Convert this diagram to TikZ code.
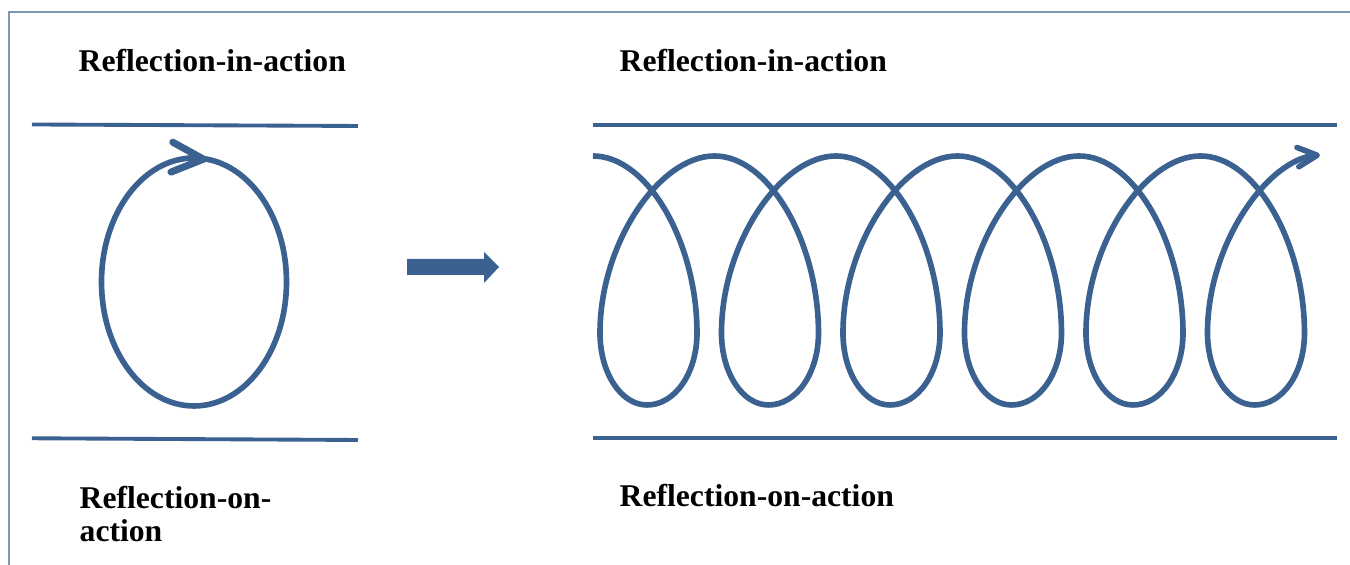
\documentclass[tikz,border=0pt]{standalone}
\usepackage{fontspec}
\setmainfont{Liberation Serif}
\usetikzlibrary{arrows.meta}
\definecolor{loopblue}{HTML}{3A6190}
\definecolor{framegrey}{HTML}{7F96B6}
\tikzstyle{frame_line}=[draw=framegrey, line width=0.5pt]
\tikzstyle{rule_line}=[draw=loopblue, line width=1.1pt]
\tikzstyle{loop_line}=[draw=loopblue, line width=1.6pt, line cap=round, line join=round]
\tikzstyle{label_text}=[anchor=base west, inner sep=0pt, align=left,
    font=\fontsize{9}{9.5}\selectfont\bfseries]

\begin{document}
\begin{tikzpicture}[x=0.01cm, y=-0.01cm]
          \useasboundingbox (0,0) rectangle (1350,565);
          \draw[frame_line] (9,566) -- (9,12) -- (1351,12);
          % single loop
          \node[label_text] (in_left) at (78,72){Reflection-in-action};
          \node[label_text] (on_left) at (79,542){Reflection-on-\\action};
          \draw[rule_line] (32,124.5) -- (358,126);
          \draw[rule_line] (32,438.3) -- (358,440);
          \draw[loop_line] (194,282) ellipse [x radius=92.5, y radius=124];
          \draw[loop_line, -{Straight Barb[length=9pt, width=8.5pt, round, line width=2pt]}]
            (188,158.2) -- (207,159.4);
          % block arrow
          \fill[loopblue] (407,259) -- (484,259) -- (484,252) -- (499,267)
            -- (484,283) -- (484,275) -- (407,275) -- cycle;
          % spiral
          \node[label_text] (in_right) at (619,72){Reflection-in-action};
          \node[label_text] (on_right) at (619,507){Reflection-on-action};
          \draw[rule_line] (593,125) -- (1337,125);
          \draw[rule_line] (593,438) -- (1337,438);
          \draw[loop_line, line cap=butt, -{Straight Barb[length=5.5pt, width=5.5pt, round]}] (593,156)
            .. controls (648,156) and (697,243) .. (697,333) .. controls (697,373) and (675,405) .. (647,405)
            .. controls (621,405) and (600,373) .. (600,333) .. controls (600,243) and (659.5,156) .. (714.5,156)
            .. controls (769.5,156) and (818.5,243) .. (818.5,333) .. controls (818.5,373) and (796.5,405) .. (768.5,405)
            .. controls (742.5,405) and (721.5,373) .. (721.5,333) .. controls (721.5,243) and (781,156) .. (836,156)
            .. controls (891,156) and (940,243) .. (940,333) .. controls (940,373) and (918,405) .. (890,405)
            .. controls (864,405) and (843,373) .. (843,333) .. controls (843,243) and (902.5,156) .. (957.5,156)
            .. controls (1012.5,156) and (1061.5,243) .. (1061.5,333) .. controls (1061.5,373) and (1039.5,405) .. (1011.5,405)
            .. controls (985.5,405) and (964.5,373) .. (964.5,333) .. controls (964.5,243) and (1024,156) .. (1079,156)
            .. controls (1134,156) and (1183,243) .. (1183,333) .. controls (1183,373) and (1161,405) .. (1133,405)
            .. controls (1107,405) and (1086,373) .. (1086,333) .. controls (1086,243) and (1145.5,156) .. (1200.5,156)
            .. controls (1255.5,156) and (1304.5,243) .. (1304.5,333) .. controls (1304.5,373) and (1282.5,405) .. (1254.5,405)
            .. controls (1228.5,405) and (1207.5,373) .. (1207.5,333) .. controls (1207.5,243) and (1268,160) .. (1320,155);
        \end{tikzpicture}
\end{document}
